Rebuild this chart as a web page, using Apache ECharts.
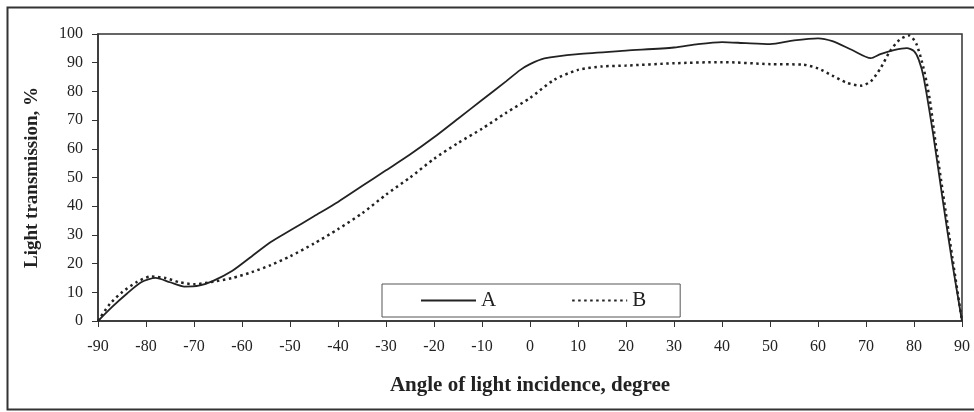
<!DOCTYPE html>
<html>
<head>
<meta charset="utf-8">
<script src="https://cdn.jsdelivr.net/npm/echarts@6/dist/echarts.min.js"></script>
<style>
html,body{margin:0;padding:0;background:#fff;}
#c{width:974px;height:412px;}
</style>
</head>
<body>
<div id="c"></div>
<script>
// Angle of light incidence (degree) and light transmission (%)
const anglesA = [-90,-87,-84,-81,-78,-75,-72,-69,-66,-62,-58,-54,-50,-45,-40,-35,-30,-25,-20,-15,-10,-5,-2,0,3,10,20,30,35,40,45,50,55,60,63,67,71,73,76,78.5,80,81,82,84,86,88,90];
const valuesA = [0,5,9.5,13.5,15,13.5,12,12.3,14,17.5,22.5,27.5,31.5,36.5,41.5,47,52.5,58,64,70.5,77,83.5,87.5,89.5,91.5,93,94.2,95.3,96.5,97.2,96.8,96.5,97.8,98.5,97.5,94.5,91.6,93,94.5,95.1,94,91,85,65,42,20,0];
const anglesB = [-90,-87.5,-85,-82,-79,-76,-73,-70,-67,-62,-58,-54,-50,-45,-40,-35,-30,-25,-20,-15,-10,-5,0,5,10,15,20,30,40,50,57,60,63,66,69,71,73,75,77,79,80.5,82,83.3,84.5,86,88,90];
const valuesB = [0,6,10,13.5,15.5,15,13.5,12.8,13.4,15,17,19.5,22.5,27,32,37.5,44,50,56.5,62,67,72.5,77.7,84,87.5,88.7,89,89.8,90.2,89.5,89.3,88,85.5,83,82,83.5,88,94,98,99.5,96.5,88,77,62,45,22,0];
const seriesNames = ['A', 'B'];
const xTitle = 'Angle of light incidence, degree';
const yTitle = 'Light transmission, %';

const font = '"Liberation Serif", "Times New Roman", serif';
const ink = '#222';

const pairs = (xs, ys) => xs.map((x, i) => [x, ys[i]]);

const chart = echarts.init(document.getElementById('c'), null, {renderer: 'canvas'});
chart.setOption({
  backgroundColor: '#fff',
  animation: false,
  textStyle: {fontFamily: font, color: ink},
  graphic: [{
    type: 'rect',
    shape: {x: 7.5, y: 7.5, width: 990, height: 402},
    style: {fill: 'none', stroke: '#333', lineWidth: 2},
    z: 0
  }],
  grid: {left: 98, top: 34, right: 12, bottom: 91, show: true, borderColor: '#333', borderWidth: 1.5, backgroundColor: 'transparent'},
  legend: {
    data: seriesNames,
    left: 382, top: 284,
    orient: 'horizontal',
    itemWidth: 55, itemHeight: 14, itemGap: 75,
    padding: [6, 34, 6, 38],
    backgroundColor: '#fff',
    borderColor: '#555', borderWidth: 1, borderRadius: 0,
    itemStyle: {opacity: 0},
    textStyle: {fontFamily: font, fontSize: 21, color: ink}
  },
  xAxis: {
    type: 'value', min: -90, max: 90, interval: 10,
    name: xTitle, nameLocation: 'middle', nameGap: 54,
    nameTextStyle: {fontFamily: font, fontSize: 21, fontWeight: 'bold', color: ink},
    axisLine: {show: true, onZero: false, lineStyle: {color: '#333', width: 1.5}},
    axisTick: {show: true, inside: false, length: 6, lineStyle: {color: '#333'}},
    axisLabel: {fontFamily: font, fontSize: 16, color: ink, margin: 18},
    splitLine: {show: false}
  },
  yAxis: {
    type: 'value', min: 0, max: 100, interval: 10,
    name: yTitle, nameLocation: 'middle', nameGap: 56, nameRotate: 90,
    nameTextStyle: {fontFamily: font, fontSize: 19, fontWeight: 'bold', color: ink},
    axisLine: {show: true, onZero: false, lineStyle: {color: '#333', width: 1.5}},
    axisTick: {show: true, inside: false, length: 6, lineStyle: {color: '#333'}},
    axisLabel: {fontFamily: font, fontSize: 16, color: ink, margin: 15},
    splitLine: {show: false}
  },
  series: [{
    name: seriesNames[0], type: 'line', data: pairs(anglesA, valuesA),
    symbol: 'none', smooth: 0.25,
    lineStyle: {color: ink, width: 1.8, type: 'solid'},
    itemStyle: {color: ink}, z: 3
  }, {
    name: seriesNames[1], type: 'line', data: pairs(anglesB, valuesB),
    symbol: 'none', smooth: 0.25,
    lineStyle: {color: ink, width: 2.5, type: [2.5, 3.5]},
    itemStyle: {color: ink}, z: 2
  }]
});
</script>
</body>
</html>
